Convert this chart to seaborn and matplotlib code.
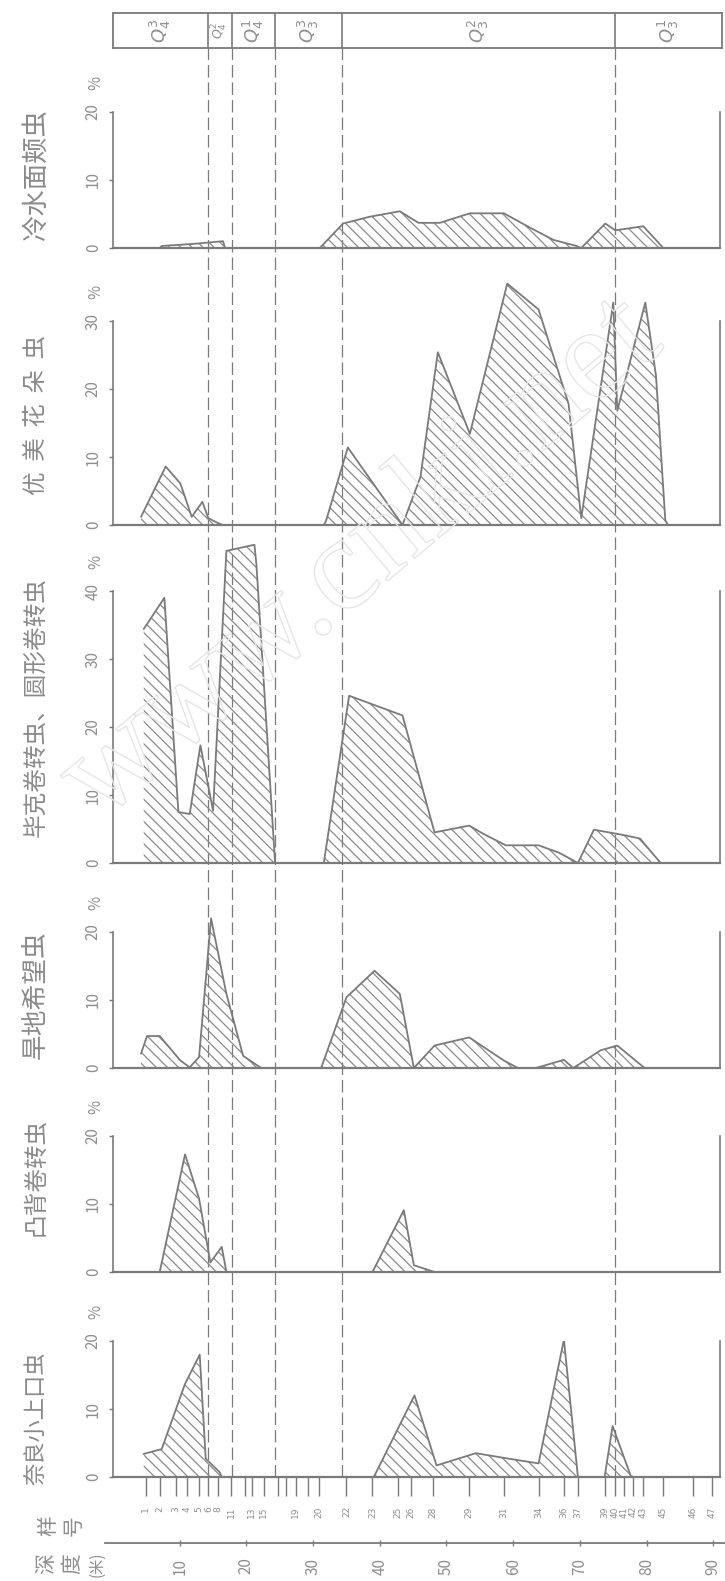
import matplotlib
matplotlib.use('Agg')
import matplotlib.pyplot as plt
import matplotlib.patheffects as pe
import seaborn as sns

# ---- data (depth in m, abundance in %) ----
titles = ['冷水面颊虫', '优  美  花  朵  虫', '毕克卷转虫、圆形卷转虫', '旱地希望虫', '凸背卷转虫', '奈良小上口虫']

cold_depth = [7.0, 7.3, 12.0, 16.5, 16.8, 31.0, 34.5, 38.5, 43.0, 45.8, 49.0, 53.5, 58.6, 62.5, 66.0, 69.5, 70.2, 73.8, 75.3, 79.5, 82.5]
cold_pct = [0.0, 0.3, 0.6, 1.0, 0.0, 0.0, 3.6, 4.6, 5.4, 3.7, 3.7, 5.1, 5.1, 3.0, 1.2, 0.3, 0.0, 3.6, 2.6, 3.2, 0.0]

flor_depth = [4.2, 7.9, 10.1, 11.8, 13.4, 14.3, 15.7, 16.5, 31.6, 31.9, 35.2, 43.4, 46.1, 48.7, 53.5, 59.1, 63.8, 68.3, 70.2, 75.0, 75.6, 79.8, 81.4, 82.8, 83.2]
flor_pct = [1.2, 8.6, 6.1, 1.2, 3.4, 1.0, 0.3, 0.0, 0.0, 0.5, 11.4, 0.0, 7.1, 25.4, 13.4, 35.5, 31.7, 17.8, 1.0, 32.7, 16.8, 32.7, 22.0, 0.7, 0.0]

amm_depth = [4.6, 7.7, 9.8, 11.5, 13.1, 15.0, 17.0, 21.2, 21.5, 24.3, 31.6, 35.4, 43.4, 48.2, 53.4, 55.5, 58.9, 63.8, 66.9, 69.7, 72.1, 76.6, 79.0, 82.1]
amm_pct = [34.4, 39.0, 7.5, 7.2, 17.3, 7.7, 45.9, 46.8, 43.9, 0.0, 0.0, 24.6, 21.7, 4.5, 5.5, 4.3, 2.6, 2.6, 1.5, 0.0, 4.9, 4.1, 3.6, 0.0]

elph_depth = [4.2, 5.1, 7.0, 10.1, 11.5, 12.9, 14.7, 17.0, 19.5, 22.2, 31.2, 35.0, 39.2, 43.0, 45.1, 48.2, 53.4, 58.6, 60.7, 63.4, 67.6, 69.0, 73.1, 75.6, 79.7]
elph_pct = [2.1, 4.7, 4.7, 1.1, 0.1, 1.6, 22.0, 10.9, 1.8, 0.0, 0.0, 10.4, 14.3, 10.9, 0.0, 3.3, 4.5, 1.1, 0.0, 0.0, 1.2, 0.0, 2.6, 3.3, 0.0]

conv_depth = [7.0, 10.8, 12.9, 14.6, 16.3, 17.0, 38.9, 43.6, 45.1, 48.2]
conv_pct = [0.0, 17.3, 10.8, 1.4, 3.7, 0.0, 0.0, 9.1, 1.0, 0.0]

epis_depth = [4.6, 7.3, 10.8, 13.0, 13.9, 16.0, 16.3, 39.1, 45.2, 48.5, 54.4, 59.3, 63.8, 67.6, 69.7, 73.7, 74.9, 77.6, 78.0]
epis_pct = [3.4, 4.1, 13.7, 18.0, 2.7, 0.7, 0.0, 0.0, 12.0, 1.7, 3.5, 2.7, 2.0, 20.2, 0.0, 0.0, 7.5, 0.2, 0.0]

tick_max = [20, 30, 40, 20, 20, 20]

# samples along the bottom
sample_depth = [4.9, 7.0, 9.4, 11.1, 12.9, 14.3, 15.7, 17.7, 20.8, 22.6, 27.4, 30.9, 35.0, 38.9, 42.7, 44.7, 47.9,
                53.4, 58.6, 63.8, 67.6, 69.7, 73.8, 75.2, 76.6, 78.0, 79.4, 82.5, 87.0, 89.8]
sample_no = ['1', '2', '3', '4', '5', '6', '8', '11', '13', '15', '19', '20', '22', '23', '25', '26', '28',
             '29', '31', '34', '36', '37', '39', '40', '41', '42', '43', '45', '46', '47']
extra_sample_depth = [19.8, 24.7, 26.0, 29.2]
depth_ticks = [10, 20, 30, 40, 50, 60, 70, 80, 90]

# stratigraphic units
unit_bounds = [0, 14.3, 17.8, 24.3, 34.4, 75.2, 91.3]
unit_labels = [r'$Q_4^3$', r'$Q_4^2$', r'$Q_4^1$', r'$Q_3^3$', r'$Q_3^2$', r'$Q_3^1$']

series = [(cold_depth, cold_pct), (flor_depth, flor_pct), (amm_depth, amm_pct),
          (elph_depth, elph_pct), (conv_depth, conv_pct), (epis_depth, epis_pct)]

# ---- layout in pixels ----
W, H = 725, 1581
X0, X1 = 113, 720
XMAX = 91.0
PX_PER_PCT = 6.8
baselines = [248, 525, 863, 1068, 1272, 1477]
ylims = [20, 36, 48, 23, 20, 20]
title_y = [175, 415, 707, 995, 1177, 1418]
title_size = [19, 17, 17, 18.5, 17, 16]

INK = '#7a7a7a'
TXT = '#8e8e8e'

sns.set_theme(style='white')
plt.rcParams['font.family'] = ['Noto Sans CJK SC', 'DejaVu Sans']
plt.rcParams['hatch.linewidth'] = 0.9
plt.rcParams['hatch.color'] = '#8a8a8a'

fig = plt.figure(figsize=(W / 100, H / 100), dpi=100)
fig.patch.set_facecolor('white')


def frac_box(x0, y_top, x1, y_bot):
    return [x0 / W, 1 - y_bot / H, (x1 - x0) / W, (y_bot - y_top) / H]


# watermark
fig.text(362 / W, 1 - 560 / H, 'www.cnki.net', rotation=40, fontsize=96,
         family=['Liberation Serif', 'DejaVu Serif'], ha='center', va='center',
         color='none', path_effects=[pe.Stroke(linewidth=1.0, foreground='#e6e6e6')], zorder=0)

# dashed boundary lines behind the panels
ov = fig.add_axes(frac_box(X0, 48, X1, baselines[-1]))
ov.set_xlim(0, XMAX)
ov.axis('off')
ov.patch.set_alpha(0)
for b in unit_bounds[1:-1]:
    ov.axvline(b, color=INK, lw=0.9, ls=(0, (10, 4)))

# stratigraphy band
band = fig.add_axes(frac_box(X0, 13, 722, 48))
band.set_xlim(0, unit_bounds[-1])
band.set_ylim(0, 1)
band.set_xticks([])
band.set_yticks([])
for s in band.spines.values():
    s.set_color(INK)
    s.set_linewidth(1.3)
for b in unit_bounds[1:-1]:
    band.axvline(b, color=INK, lw=1.2)
for i, lab in enumerate(unit_labels):
    mid = (unit_bounds[i] + unit_bounds[i + 1]) / 2
    band.text(mid, 0.5, lab, rotation=90, ha='center', va='center',
              fontsize=9 if i == 1 else 13, color=TXT)

# species panels
axes = []
for i, (dep, pct) in enumerate(series):
    top = baselines[i] - ylims[i] * PX_PER_PCT
    ax = fig.add_axes(frac_box(X0, top, X1, baselines[i]))
    ax.patch.set_alpha(0)
    ax.set_xlim(0, XMAX)
    ax.set_ylim(0, ylims[i])
    ax.fill_between(dep, pct, 0, facecolor='none', edgecolor='#8a8a8a', hatch='\\' * 3, linewidth=0)
    ax.plot(dep, pct, color=INK, lw=1.3)
    ax.spines['top'].set_visible(False)
    for side in ['left', 'right']:
        ax.spines[side].set_bounds(0, tick_max[i])
        ax.spines[side].set_color(INK)
        ax.spines[side].set_linewidth(1.2)
    ax.spines['bottom'].set_color(INK)
    ax.spines['bottom'].set_linewidth(1.6)
    yt = list(range(0, tick_max[i] + 1, 10))
    ax.set_yticks(yt)
    ax.set_yticklabels([str(v) for v in yt], rotation=90, color=TXT, fontsize=11, va='center')
    ax.tick_params(axis='y', left=True, length=3, width=1, color=INK, pad=5)
    ax.annotate('%', xy=(0, tick_max[i]), xycoords=('axes fraction', 'data'), xytext=(-12, 21),
                textcoords='offset points', rotation=90, ha='center', va='center', fontsize=11, color=TXT)
    ax.set_xticks([])
    fig.text(36 / W, 1 - title_y[i] / H, titles[i], rotation=90, ha='center', va='center',
             fontsize=title_size[i], color='#8a8a8a')
    axes.append(ax)

# sample numbers under the last panel
last = axes[-1]
last.set_xticks(sample_depth)
last.set_xticklabels(sample_no, rotation=90, fontsize=6.5, color=TXT, family='DejaVu Sans')
last.set_xticks(extra_sample_depth, minor=True)
last.tick_params(axis='x', which='both', bottom=True, direction='out', length=14, width=1, color=INK, pad=7)

# depth scale
dax = fig.add_axes(frac_box(105, 1542, 725, 1543))
dax.patch.set_alpha(0)
dax.set_xlim(-8 / 6.67, (725 - X0) / 6.67)
dax.set_yticks([])
for side in ['top', 'left', 'right']:
    dax.spines[side].set_visible(False)
dax.spines['bottom'].set_color(INK)
dax.spines['bottom'].set_linewidth(1.3)
dax.set_xticks(depth_ticks)
dax.set_xticklabels([str(v) for v in depth_ticks], rotation=90, fontsize=11, color=TXT)
dax.tick_params(axis='x', bottom=True, direction='inout', length=5, width=1, color=INK, pad=8)

# header of the depth column, characters written vertically then rotated
for ch, x in zip(['样', '号'], [48, 74]):
    fig.text(x / W, 1 - 1526 / H, ch, rotation=90, ha='center', va='center', fontsize=15, color=TXT)
for ch, x in zip(['深', '度', '(米)'], [46, 72, 97]):
    fig.text(x / W, 1 - 1564 / H, ch, rotation=90, ha='center', va='center', fontsize=15 if len(ch) == 1 else 11, color=TXT)

fig.savefig('out.png', dpi=100, facecolor='white')
